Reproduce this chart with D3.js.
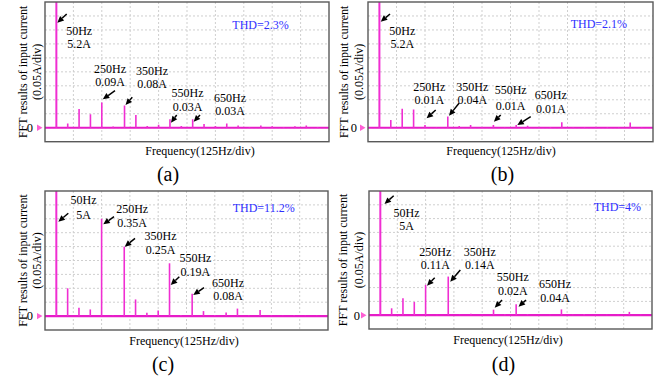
<!DOCTYPE html>
<html>
<head>
<meta charset="utf-8">
<script src="https://cdn.jsdelivr.net/npm/d3@7"></script>
<style>
  body { margin: 0; background: #fff; }
  svg { display: block; }
  text { font-family: "Liberation Serif", "Times New Roman", serif; }
</style>
</head>
<body>
<svg id="fig" width="669" height="383"></svg>
<script>
// Harmonic lines of the input-current spectrum (Hz)
const harmonicHz = [50, 100, 150, 200, 250, 300, 350, 400, 450, 500, 550, 600,
                    650, 700, 750, 800, 850, 900, 950, 1000, 1050, 1100, 1150, 1200];

// Amplitude of each harmonic line (A), one list per operating case
const currentA = [5.2, 0.015, 0.067, 0.048, 0.09, 0.004, 0.08, 0.046, 0.006, 0.011, 0.03, 0.006,
                  0.03, 0.013, 0.006, 0.015, 0.008, 0.003, 0.008, 0.005, 0.003, 0.005, 0.008, 0.003];
const currentB = [5.2, 0.028, 0.068, 0.065, 0.01, 0.002, 0.04, 0.006, 0.01, 0.002, 0.01, 0.002,
                  0.01, 0.007, 0.002, 0.003, 0.02, 0.002, 0.003, 0.002, 0.003, 0.002, 0.019, 0.002];
const currentC = [5, 0.10, 0.03, 0.024, 0.35, 0.002, 0.25, 0.06, 0.012, 0.02, 0.19, 0.004,
                  0.08, 0.018, 0.004, 0.013, 0.027, 0.003, 0.022, 0.003, 0.002, 0.003, 0.002, 0.002];
const currentD = [5, 0.025, 0.061, 0.048, 0.11, 0.002, 0.14, 0.002, 0.005, 0.002, 0.02, 0.003,
                  0.04, 0.004, 0.002, 0.002, 0.021, 0.002, 0.004, 0.002, 0.002, 0.002, 0.012, 0.002];

const thdLabels = ["THD=2.3%", "THD=2.1%", "THD=11.2%", "THD=4%"];
const panelTags = ["(a)", "(b)", "(c)", "(d)"];
const annotatedHz = [50, 250, 350, 550, 650];
const yTickValues = [0];
const yTitleLines = ["FFT results of input current", "(0.05A/div)"];
const xTitle = "Frequency(125Hz/div)";

// Screen divisions: 125 Hz/div over 10 divisions, 0.05 A/div with zero one division up
const freqMax = 1250, ampPerDiv = 0.05, divs = 10;

const svg = d3.select("#fig");
const SPIKE = "#f02ed2", BASE = "#e61cc8", THD_COL = "#2f2fff";

// Layout of each panel: frame, titles, and annotation placements (relative to frame)
const layouts = [
  { series: currentA, box: [45, 2, 329, 141.7],
    yTitleX: [-18, -4.5], zeroX: -12, xTitleCx: 200, xTitleY: 155, tagCx: 168, tagY: 181,
    thd: [187.3, 26.5],
    notes: [
      { cx: 34.2, b1: 33, b2: 46.3, tail: [21.7, 12], hy: 20.7, hdx: 1 },
      { cx: 65, b1: 70.7, b2: 84, tail: [70, 88.7], hy: 97.3, hdx: 1 },
      { cx: 107, b1: 73, b2: 86.3, tail: [87.3, 95.3], hy: 103, hdx: 1 },
      { cx: 142.5, b1: 95.3, b2: 109, tail: [131.7, 113], hy: 120.7, hdx: 1 },
      { cx: 185, b1: 99.7, b2: 113, tail: [155, 113], hy: 119.7, hdx: 1 } ] },
  { series: currentB, box: [368, 2, 653, 141.7],
    yTitleX: [-20, -5], zeroX: -11, xTitleCx: 501, xTitleY: 155, tagCx: 502.5, tagY: 181,
    thd: [202.7, 26],
    notes: [
      { cx: 34.3, b1: 33, b2: 46.3, tail: [22, 12], hy: 19.7, hdx: 1.3 },
      { cx: 61.3, b1: 88.7, b2: 102, tail: [67.7, 108], hy: 116.3, hdx: 1.6 },
      { cx: 104.3, b1: 88.7, b2: 102, tail: [91, 101.3], hy: 113.7, hdx: 1.2 },
      { cx: 142.7, b1: 92.3, b2: 108, tail: [132.7, 113], hy: 119.7, hdx: 0.5 },
      { cx: 182.8, b1: 97.3, b2: 111.3, tail: [162.7, 114.7], hy: 123, hdx: 1.1 } ] },
  { series: currentC, box: [45, 191, 328, 330],
    yTitleX: [-18, -4.5], zeroX: -12, xTitleCx: 184, xTitleY: 345, tagCx: 163, tagY: 371,
    thd: [187.7, 20.7],
    notes: [
      { cx: 38.5, b1: 13, b2: 27.5, tail: [23.3, 22.3], hy: 30.7, hdx: 2 },
      { cx: 87.2, b1: 22.3, b2: 35.7, tail: [69, 25.7], hy: 33.3, hdx: 1.7 },
      { cx: 115.5, b1: 49, b2: 62.5, tail: [90, 47.3], hy: 55.7, hdx: 0.5 },
      { cx: 150.4, b1: 70.7, b2: 84.7, tail: [134.3, 85.7], hy: 94, hdx: 1.2 },
      { cx: 183, b1: 95.7, b2: 109, tail: [159, 96.7], hy: 104, hdx: 1.1 } ] },
  { series: currentD, box: [369, 191, 652, 329],
    yTitleX: [-22, -6], zeroX: -9, xTitleCx: 508, xTitleY: 344, tagCx: 503.5, tagY: 371,
    thd: [224.7, 20],
    notes: [
      { cx: 37.5, b1: 25.7, b2: 39, tail: [24.7, 4.7], hy: 13, hdx: 4.2 },
      { cx: 66.3, b1: 64.7, b2: 78, tail: [65.7, 86.7], hy: 94.7, hdx: 1.4 },
      { cx: 110.8, b1: 64.7, b2: 78, tail: [91.3, 79], hy: 90.7, hdx: 2 },
      { cx: 143.8, b1: 90, b2: 104, tail: [133, 109], hy: 116.7, hdx: 1.2 },
      { cx: 186, b1: 96.7, b2: 110.7, tail: [157, 109], hy: 115.7, hdx: 2.4 } ] }
];

const fmtAmp = v => String(v) + "A";

function arrow(g, x1, y1, x2, y2) {
  const ang = Math.atan2(y2 - y1, x2 - x1), L = 6.5, W = 3;
  const bx = x2 - L * Math.cos(ang), by = y2 - L * Math.sin(ang);
  g.append("line").attr("x1", x1).attr("y1", y1).attr("x2", bx).attr("y2", by)
    .attr("stroke", "#000").attr("stroke-width", 1.5);
  const px = -Math.sin(ang) * W, py = Math.cos(ang) * W;
  g.append("path")
    .attr("d", `M${x2},${y2}L${bx + px},${by + py}L${bx - px},${by - py}Z`)
    .attr("fill", "#000");
}

layouts.forEach((p, i) => {
  const [x0, y0, x1, y1] = p.box;
  const g = svg.append("g");
  const x = d3.scaleLinear().domain([0, freqMax]).range([x0, x1]);
  const y = d3.scaleLinear().domain([-ampPerDiv, ampPerDiv * (divs - 1)]).range([y1, y0]);

  // dotted division grid
  const xDivs = d3.range(1, divs).map(k => k * freqMax / divs);
  const yDivs = d3.range(0, divs - 1).map(k => k * ampPerDiv);
  g.selectAll(".gx").data(xDivs).join("line")
    .attr("x1", d => x(d)).attr("x2", d => x(d)).attr("y1", y0).attr("y2", y1)
    .attr("stroke", "#cfcfcf").attr("stroke-width", 1).attr("stroke-dasharray", "2,2");
  g.selectAll(".gy").data(yDivs).join("line")
    .attr("x1", x0).attr("x2", x1).attr("y1", d => y(d)).attr("y2", d => y(d))
    .attr("stroke", "#cfcfcf").attr("stroke-width", 1).attr("stroke-dasharray", "2,2");

  // spectrum lines, clipped to the frame
  const clipId = "clip" + i;
  svg.append("clipPath").attr("id", clipId).append("rect")
    .attr("x", x0).attr("y", y0).attr("width", x1 - x0).attr("height", y1 - y0);
  const spec = g.append("g").attr("clip-path", `url(#${clipId})`);
  spec.append("line").attr("x1", x0).attr("x2", x1).attr("y1", y(0)).attr("y2", y(0))
    .attr("stroke", BASE).attr("stroke-width", 2.2);
  spec.selectAll(".sp").data(harmonicHz.map((f, k) => ({ f, v: p.series[k] }))).join("line")
    .attr("x1", d => x(d.f)).attr("x2", d => x(d.f))
    .attr("y1", y(0)).attr("y2", d => y(d.v))
    .attr("stroke", SPIKE).attr("stroke-width", d => d.f === 50 ? 2 : 1.6);

  // frame
  g.append("rect").attr("x", x0).attr("y", y0).attr("width", x1 - x0).attr("height", y1 - y0)
    .attr("fill", "none").attr("stroke", "#595959").attr("stroke-width", 1.4);

  // zero tick label and marker
  yTickValues.forEach(t => {
    g.append("text").attr("x", x0 + p.zeroX).attr("y", y(t) + 4.3)
      .attr("text-anchor", "end").attr("font-size", 12.5).text(t);
    g.append("path")
      .attr("d", `M${x0 - 8},${y(t) - 3.2}L${x0 - 2.5},${y(t)}L${x0 - 8},${y(t) + 3.2}Z`)
      .attr("fill", "#ff5fd4");
  });

  // axis titles
  const cy = (y0 + y1) / 2;
  yTitleLines.forEach((line, k) => {
    const tx = x0 + p.yTitleX[k];
    g.append("text").attr("transform", `translate(${tx},${cy}) rotate(-90)`)
      .attr("text-anchor", "middle").attr("font-size", 12).text(line);
  });
  g.append("text").attr("x", p.xTitleCx).attr("y", p.xTitleY)
    .attr("text-anchor", "middle").attr("font-size", 12).text(xTitle);
  g.append("text").attr("x", p.tagCx).attr("y", p.tagY)
    .attr("text-anchor", "middle").attr("font-size", 20).text(panelTags[i]);

  // THD readout
  g.append("text").attr("x", x0 + p.thd[0]).attr("y", y0 + p.thd[1])
    .attr("font-size", 12).attr("fill", THD_COL).text(thdLabels[i]);

  // harmonic call-outs
  annotatedHz.forEach((f, k) => {
    const n = p.notes[k];
    const v = p.series[harmonicHz.indexOf(f)];
    g.append("text").attr("x", x0 + n.cx).attr("y", y0 + n.b1)
      .attr("text-anchor", "middle").attr("font-size", 12).text(f + "Hz");
    g.append("text").attr("x", x0 + n.cx).attr("y", y0 + n.b2)
      .attr("text-anchor", "middle").attr("font-size", 12).text(fmtAmp(v));
    arrow(g, x0 + n.tail[0], y0 + n.tail[1], x(f) + n.hdx, y0 + n.hy);
  });
});
</script>
</body>
</html>
